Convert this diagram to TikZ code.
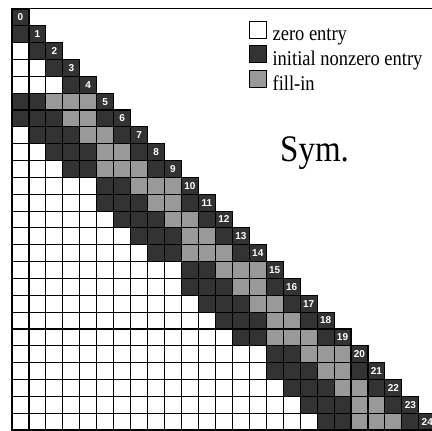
\documentclass[tikz,border=0pt]{standalone}
\usepackage{fontspec}
\setmainfont{Liberation Serif}
\setsansfont{Liberation Sans}
\newfontfamily\legfont[FakeStretch=0.88]{Liberation Serif}
\usetikzlibrary{positioning}
\definecolor{nzDark}{HTML}{333333}
\definecolor{fillGray}{HTML}{999999}
\newcommand\cellw{16.95}
\newcommand\cellh{16.84}

\begin{document}
\begin{tikzpicture}[x=1pt,y=-1pt,
  cell/.style={draw=black,line width=1.1pt,fill=white},
  nzcell/.style={cell,fill=nzDark},
  ficell/.style={cell,fill=fillGray},
  diaglabel/.style={font=\fontsize{10}{11}\sffamily\bfseries,text=white,inner sep=0pt},
  legbox/.style={draw=black,line width=0.8pt,minimum size=17pt,inner sep=0pt},
  legtext/.style={font=\fontsize{21}{24}\legfont,inner sep=0pt}]
\clip (0,0) rectangle (432,431);
% lower triangle, all zero at first
\foreach \r in {0,...,24}
  \foreach \c in {0,...,\r}
    \draw[cell] ({12+\c*\cellw},{9+\r*\cellh}) rectangle ++(\cellw,\cellh);
% initial nonzero entries
\foreach \r/\c in {1/0,2/1,3/2,4/3,
  5/0,5/1,6/0,6/1,6/2,6/5,7/1,7/2,7/3,7/6,8/2,8/3,8/4,8/7,9/3,9/4,9/8,
  10/5,10/6,11/5,11/6,11/7,11/10,12/6,12/7,12/8,12/11,13/7,13/8,13/9,13/12,14/8,14/9,14/13,
  15/10,15/11,16/10,16/11,16/12,16/15,17/11,17/12,17/13,17/16,18/12,18/13,18/14,18/17,19/13,19/14,19/18,
  20/15,20/16,21/15,21/16,21/17,21/20,22/16,22/17,22/18,22/21,23/17,23/18,23/19,23/22,24/18,24/19,24/23}
  \draw[nzcell] ({12+\c*\cellw},{9+\r*\cellh}) rectangle ++(\cellw,\cellh);
% fill-in
\foreach \r/\c in {5/2,5/3,5/4,6/3,6/4,7/4,7/5,8/5,8/6,9/5,9/6,9/7,
  10/7,10/8,10/9,11/8,11/9,12/9,12/10,13/10,13/11,14/10,14/11,14/12,
  15/12,15/13,15/14,16/13,16/14,17/14,17/15,18/15,18/16,19/15,19/16,19/17,
  20/17,20/18,20/19,21/18,21/19,22/19,22/20,23/20,23/21,24/20,24/21,24/22}
  \draw[ficell] ({12+\c*\cellw},{9+\r*\cellh}) rectangle ++(\cellw,\cellh);
% diagonal
\foreach \r in {0,...,24}{
  \draw[nzcell] ({12+\r*\cellw},{9+\r*\cellh}) rectangle ++(\cellw,\cellh);
  \node[diaglabel] (d\r) at ({12+(\r+0.5)*\cellw},{9+(\r+0.5)*\cellh}) {\r};
}
\draw[line width=1pt] (12,8.4) -- (432,8.4);
% legend
\node[legbox,fill=white] (zerobox) at (257.5,29.5) {};
\node[legbox,fill=nzDark,below=7pt of zerobox] (nzbox) {};
\node[legbox,fill=fillGray,below=7pt of nzbox] (fibox) {};
\node[legtext,right=6pt of zerobox.south east,anchor=base west,yshift=-2.5pt] (zerolab) {zero entry};
\node[legtext,right=6pt of nzbox.south east,anchor=base west,yshift=-2.5pt] (nzlab) {initial nonzero entry};
\node[legtext,right=6pt of fibox.south east,anchor=base west,yshift=-2.5pt] (filab) {fill-in};
\node[font=\fontsize{37.5}{40}\legfont,inner sep=0pt,anchor=base west] (sym) at (280,161.7) {Sym.};
\end{tikzpicture}
\end{document}
